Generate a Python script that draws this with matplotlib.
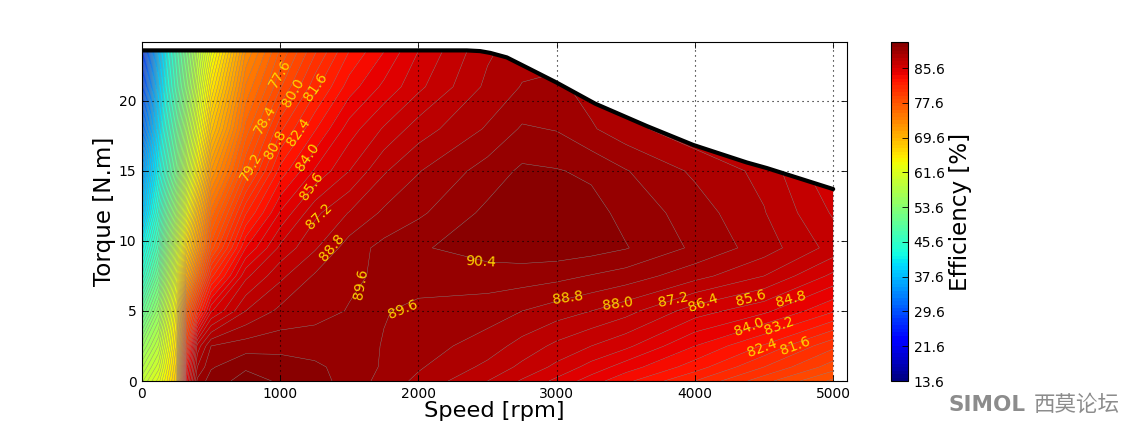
import numpy as np
from matplotlib import pyplot as plt
from matplotlib.patches import Polygon

# Efficiency map
speed = [0, 120, 250, 320, 400, 500, 750, 1000, 1250, 1500, 1750, 2000, 2500, 2750, 3000, 3250, 3500, 4000, 4500, 5000]
torque = [0, 1, 2.5, 5, 7.5, 9.5, 12, 15, 18, 21, 24]

eff_t0 = [59, 62, 68, 84, 89.8, 90.8, 91.5, 91.1, 90.7, 90.1, 89.3, 88.6, 87.2, 86.3, 85.4, 84.4, 83.4, 81.6, 79.5, 77.4]
eff_t1 = [57.5, 60.5, 67.5, 83, 88.8, 90.3, 91.1, 90.85, 90.55, 90.1, 89.5, 88.9, 87.8, 87, 86.2, 85.3, 84.4, 82.8, 80.8, 78.8]
eff_t2 = [55, 58.5, 66.5, 80, 87.5, 89.6, 90.0, 90.1, 90.05, 90.0, 89.55, 89.2, 88.4, 87.7, 87, 86.4, 85.8, 84, 82.3, 80.2]
eff_t5 = [50, 55, 65, 76, 81, 85.5, 88, 89, 89.3, 89.65, 89.65, 89.4, 89.2, 88.8, 88.4, 88, 87.5, 86.0, 85.0, 83.3]
eff_t7 = [45, 51, 62.5, 70, 75.5, 81.3, 86.2, 87.8, 88.9, 89.45, 89.75, 89.95, 90, 90, 89.85, 89.55, 89.25, 88.3, 87.2, 85.4]
eff_t9 = [42, 48, 60, 66.5, 72, 78, 84, 86.6, 87.9, 89.2, 89.85, 90.3, 90.8, 90.9, 90.9, 90.75, 90.45, 89.45, 88.4, 86.9]
eff_t12 = [38, 45, 56, 62.5, 69, 75.5, 81.5, 84.9, 87, 88.05, 88.95, 89.45, 90.6, 90.9, 90.9, 90.7, 90.15, 89.2, 88.05, 86.3]
eff_t15 = [35, 42, 52, 58.5, 65, 72, 78.4, 82.7, 84.9, 86.4, 87.9, 88.75, 89.95, 90.55, 90.45, 90.25, 89.65, 88.65, 87.75, 85.6]
eff_t18 = [31, 40, 50, 56, 62, 68.5, 76.3, 80.6, 83.1, 85.2, 86.5, 87.6, 88.9, 89.7, 89.55, 88.9, 88.3, 87.4, 86.3, 84.5]
eff_t21 = [28, 38.5, 48, 53.5, 59.5, 65.5, 74.5, 78.3, 81.3, 83.6, 85, 86.2, 88.2, 88.85, 89, 88.45, 87.9, 86.8, 85.5, 84]
eff_t24 = [26, 37, 47, 52, 57.5, 62.5, 72.5, 76.7, 79.6, 82.2, 83.8, 85.5, 87.8, 88.4, 88.4, 87.9, 87.3, 86.2, 85, 83.5]

# Max torque envelope
env_speed = [0, 2350, 2446, 2520, 2639, 2800, 3000, 3278, 3652, 3988, 4375, 4520, 5000]
env_torque = [23.6, 23.6, 23.55, 23.42, 23.1, 22.3, 21.3, 19.8, 18.2, 16.85, 15.6, 15.2, 13.7]

# Contour labels
label_text = ['77.6', '78.4', '79.2', '80.0', '80.8', '81.6', '82.4', '84.0', '85.6', '87.2', '88.8', '89.6',
              '89.6', '90.4', '88.8', '88.0', '87.2', '86.4', '85.6', '84.8', '84.0', '83.2', '82.4', '81.6']
label_speed = [999, 890, 789, 1093, 962, 1259, 1136, 1194, 1230, 1281, 1375, 1585,
               1889, 2453, 3083, 3444, 3842, 4059, 4407, 4696, 4392, 4609, 4486, 4725]
label_torque = [21.93, 18.64, 15.29, 20.57, 16.86, 21.0, 17.79, 16.0, 13.93, 11.79, 9.5, 6.93,
                5.07, 8.5, 5.93, 5.5, 5.79, 5.57, 5.93, 5.86, 3.86, 3.93, 2.36, 2.5]
label_rot = [60, 60, 60, 60, 60, 55, 55, 55, 55, 45, 50, 80,
             22, -3, 8, 8, 12, 20, 15, 15, 20, 20, 20, 20]

cbar_ticks = [13.6, 21.6, 29.6, 37.6, 45.6, 53.6, 61.6, 69.6, 77.6, 85.6]

eff = np.array([eff_t0, eff_t1, eff_t2, eff_t5, eff_t7, eff_t9, eff_t12, eff_t15, eff_t18, eff_t21, eff_t24])
levels = list(np.arange(13.6, 91.5, 0.8)) + [91.6]

fig = plt.figure(figsize=(11.36, 4.23), dpi=100)
ax = fig.add_axes([142/1136, 1-381/423, 705/1136, 339/423])
cax = fig.add_axes([891/1136, 1-381/423, 17/1136, 339/423])

cf = ax.contourf(speed, torque, eff, levels=levels, cmap='jet', vmin=13.6, vmax=91.6)
cl = ax.contour(speed, torque, eff, levels=levels, colors='#888888', linewidths=0.3)

# Only show the map below the torque envelope
clip = Polygon(list(zip(env_speed, env_torque)) + [(5000, 0), (0, 0)], closed=True, transform=ax.transData)
cf.set_clip_path(clip)
cl.set_clip_path(clip)

ax.plot(env_speed, env_torque, color='k', lw=3.0, solid_capstyle='round', solid_joinstyle='round', zorder=5)

for txt, x, y, r in zip(label_text, label_speed, label_torque, label_rot):
    ax.text(x, y, txt, color='#ffd700', fontsize=10, rotation=r, ha='center', va='center', zorder=6)

ax.set_xlim(0, 5100)
ax.set_ylim(0, 24.2)
ax.set_xticks([0, 1000, 2000, 3000, 4000, 5000])
ax.set_yticks([0, 5, 10, 15, 20])
ax.grid(True, color='k', linewidth=0.8, dashes=(1, 3.5))
ax.set_axisbelow(False)
ax.tick_params(direction='in', top=True, right=True, labelsize=10, length=4, width=0.6, pad=4)
ax.set_xlabel('Speed [rpm]', fontsize=16.2, labelpad=0)
ax.set_ylabel('Torque [N.m]', fontsize=16.6, labelpad=2)

cb = fig.colorbar(cf, cax=cax, spacing='proportional')
cb.set_ticks(cbar_ticks)
cb.set_ticklabels(['%.1f' % t for t in cbar_ticks])
cb.ax.tick_params(direction='in', labelsize=10, length=4, width=0.6, pad=4)
cb.set_label('Efficiency [%]', fontsize=16.6, labelpad=3)

# Forum watermark
fig.text(948/1136, 1-405/423, 'SIMOL', color='#8c8c8c', fontsize=15.5, fontweight='bold', va='center', ha='left',
         family='DejaVu Sans')
fig.text(1034/1136, 1-405/423, '西莫论坛', color='#8c8c8c', fontsize=15.5, va='center', ha='left',
         family=['Noto Sans CJK SC', 'DejaVu Sans'])

plt.savefig('out.png', dpi=100)
